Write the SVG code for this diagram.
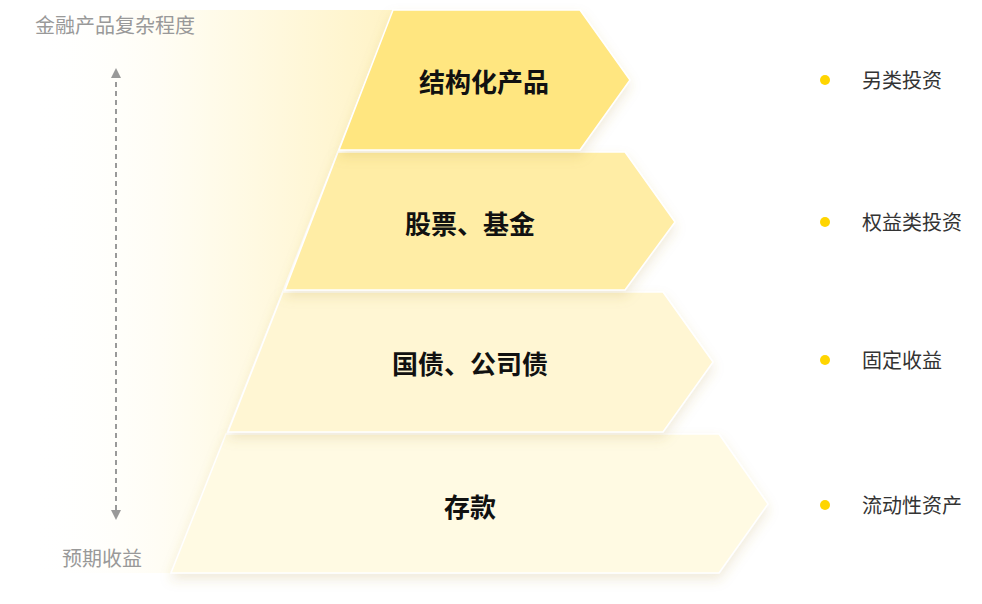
<svg xmlns="http://www.w3.org/2000/svg" width="982" height="604" viewBox="0 0 982 604">
<defs>
<linearGradient id="bg" x1="0" y1="0" x2="1" y2="0"><stop offset="0" stop-color="#fff" stop-opacity="0"/><stop offset="0.5" stop-color="#FFFBEA"/><stop offset="1" stop-color="#FFF3C6"/></linearGradient>
<linearGradient id="ln" x1="0" y1="0" x2="1" y2="0"><stop offset="0" stop-color="#FFE14D" stop-opacity="0"/><stop offset="1" stop-color="#FFD500"/></linearGradient>
<filter id="sh" x="-10%" y="-10%" width="130%" height="140%"><feDropShadow dx="0" dy="6" stdDeviation="6" flood-color="#B09040" flood-opacity="0.18"/></filter>
<marker id="ar" viewBox="0 0 10 10" refX="5" refY="5" markerWidth="10" markerHeight="10" orient="auto-start-reverse" markerUnits="userSpaceOnUse"><path d="M0,0 L10,5 L0,10 z" fill="#999"/></marker>
</defs>
<style>
.t{font-family:"Noto Sans CJK SC",sans-serif;}
.n{font-size:26px;font-weight:bold;fill:#111;text-anchor:middle;}
.r{font-size:20px;fill:#333;}
.g{font-size:20px;fill:#999;}
.s{stroke:#fff;stroke-width:1.5;filter:url(#sh);}
.c{stroke:url(#ln);stroke-width:2;stroke-dasharray:5 4;fill:none;}
</style>
<polygon points="30,10 393,10 171,573 30,573" fill="url(#bg)"/>
<g id="axis">
<line x1="116" y1="73" x2="116" y2="515" stroke="#999" stroke-width="2" stroke-dasharray="5 4" marker-start="url(#ar)" marker-end="url(#ar)"/>
<text class="t g" x="35" y="33">金融产品复杂程度</text>
<text class="t g" x="62" y="566">预期收益</text>
</g>
<g id="n4"><polygon class="s" points="226,434 719,434 768,504 719,573 171,573" fill="#FFFAE3"/><text class="t n" x="470" y="517">存款</text></g>
<g id="n3"><polygon class="s" points="283,292 663,292 713,362 663,432 228,432" fill="#FFF6D3"/><text class="t n" x="470" y="374">国债、公司债</text></g>
<g id="n2"><polygon class="s" points="338,152 625,152 675,222 625,290 285,290" fill="#FFEDA5"/><text class="t n" x="470" y="234">股票、基金</text></g>
<g id="n1"><polygon class="s" points="393,10 580,10 630,80 580,150 339,150" fill="#FFE680"/><text class="t n" x="484" y="92">结构化产品</text></g>
<g id="connectors">
<line class="c" x1="645" y1="80" x2="822" y2="80"/><circle cx="825" cy="80" r="5" fill="#FFD500"/>
<line class="c" x1="703" y1="222" x2="822" y2="222"/><circle cx="825" cy="222" r="5" fill="#FFD500"/>
<line class="c" x1="735" y1="360" x2="822" y2="360"/><circle cx="825" cy="360" r="5" fill="#FFD500"/>
<line class="c" x1="785" y1="505" x2="822" y2="505"/><circle cx="825" cy="505" r="5" fill="#FFD500"/>
</g>
<g id="labels">
<text class="t r" x="862" y="88">另类投资</text>
<text class="t r" x="862" y="230">权益类投资</text>
<text class="t r" x="862" y="368">固定收益</text>
<text class="t r" x="862" y="513">流动性资产</text>
</g>
</svg>
